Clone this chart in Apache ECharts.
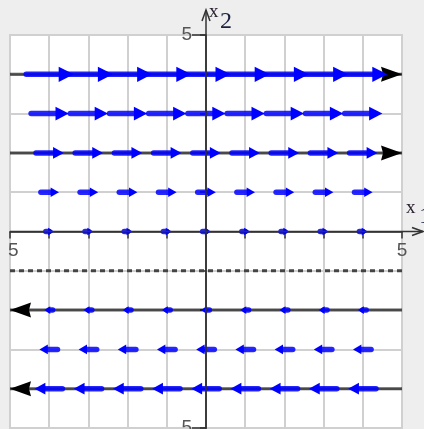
<!DOCTYPE html>
<html>
<head>
<meta charset="utf-8">
<script src="https://cdn.jsdelivr.net/npm/echarts@6/dist/echarts.min.js"></script>
<style>
html,body{margin:0;padding:0;background:#eeeeee;}
#chart{width:424px;height:429px;}
</style>
</head>
<body>
<div id="chart"></div>
<script>
// ---- data ----
const xRange = [-5, 5];
const yRange = [-5, 5];
const columnsX1 = [-4, -3, -2, -1, 0, 1, 2, 3, 4];
const rowsX2 = [4, 3, 2, 1, 0, -2, -3, -4];
const arrowDx = [1.25, 1.0, 0.75, 0.5, 0.25, -0.25, -0.5, -0.75];
const trajX2 = [4, 2, -2, -4];
const trajDir = [1, 1, -1, -1];
const equilibriumX2 = [-1];
const tickValues = [-5, 5];
const tickTexts = ['5', '5'];

const arrowData = [];
rowsX2.forEach((y, i) => columnsX1.forEach(x => arrowData.push([x, y, arrowDx[i]])));
const trajData = trajX2.map((y, i) => [y, trajDir[i]]);
const tickData = tickValues.map(v => [v]);

const chart = echarts.init(document.getElementById('chart'));

const option = {
  backgroundColor: '#eeeeee',
  animation: false,
  grid: {
    left: 10, top: 35, width: 392, height: 393,
    outerBoundsMode: 'none', containLabel: false,
    show: true, backgroundColor: '#ffffff', borderColor: '#d0d0d0', borderWidth: 2
  },
  xAxis: {
    type: 'value', min: xRange[0], max: xRange[1], interval: 1,
    axisLine: { show: true, onZero: true, lineStyle: { color: '#333', width: 1.5 } },
    axisTick: { show: true, length: 7, lineStyle: { color: '#333', width: 1.5 } },
    axisLabel: { show: false },
    splitLine: { show: true, lineStyle: { color: '#d0d0d0', width: 2 } }
  },
  yAxis: {
    type: 'value', min: yRange[0], max: yRange[1], interval: 1,
    axisLine: { show: true, onZero: true, lineStyle: { color: '#333', width: 1.5 } },
    axisTick: { show: true, length: 6, lineStyle: { color: '#333', width: 1.5 } },
    axisLabel: { show: false },
    splitLine: { show: true, lineStyle: { color: '#d0d0d0', width: 2 } }
  },
  series: [
    {
      // equilibrium (dotted) line
      type: 'line',
      data: [[xRange[0], equilibriumX2[0]], [xRange[1], equilibriumX2[0]]],
      symbol: 'none',
      lineStyle: { color: '#444', width: 3, type: [5, 4] },
      z: 3, silent: true
    },
    {
      // black trajectories
      type: 'custom',
      data: trajData,
      z: 4, silent: true,
      renderItem: function (params, api) {
        const y = api.value(0), d = api.value(1);
        const a = api.coord([xRange[0], y]);
        const b = api.coord([xRange[1], y]);
        const tip = d > 0 ? b : a;
        const hl = 21, hw = 15;
        const base = tip[0] - d * hl;
        return {
          type: 'group',
          children: [
            { type: 'line', shape: { x1: a[0], y1: a[1], x2: b[0], y2: b[1] },
              style: { stroke: 'rgba(0,0,0,0.65)', lineWidth: 3 } },
            { type: 'polygon', shape: { points: [[tip[0], tip[1]], [base, tip[1] - hw / 2], [base + d * 2, tip[1]], [base, tip[1] + hw / 2]] },
              style: { fill: '#000' } }
          ]
        };
      }
    },
    {
      // blue direction-field arrows
      type: 'custom',
      data: arrowData,
      z: 5, silent: true,
      renderItem: function (params, api) {
        const x = api.value(0), y = api.value(1), dx = api.value(2);
        const p0 = api.coord([x - dx / 2, y]);
        const p1 = api.coord([x + dx / 2, y]);
        const L = Math.abs(p1[0] - p0[0]);
        const dir = Math.sign(p1[0] - p0[0]);
        const hl = Math.min(15, 0.25 * L + 3.5);
        const hw = hl * 0.85 + 2.5;
        const base = p1[0] - dir * hl;
        return {
          type: 'group',
          children: [
            { type: 'line', shape: { x1: p0[0] + dir * 1.5, y1: p0[1], x2: base + dir, y2: p1[1] },
              style: { stroke: '#0000ff', lineWidth: 5.5, lineCap: 'round', opacity: 0.85 } },
            { type: 'polygon', shape: { points: [[p1[0], p1[1]], [base, p1[1] - hw / 2], [base, p1[1] + hw / 2]] },
              style: { fill: '#0000ff' } }
          ]
        };
      }
    },
    {
      // axis extensions with arrowheads
      type: 'custom',
      data: [[0, 0]],
      clip: false, z: 6, silent: true,
      renderItem: function (params, api) {
        const o = api.coord([0, 0]);
        const cs = params.coordSys;
        const top = cs.y - 25;
        const bottom = cs.y + cs.height + 5;
        const right = cs.x + cs.width + 21;
        const st = { stroke: '#333', lineWidth: 1.5, fill: null };
        return {
          type: 'group',
          children: [
            { type: 'line', shape: { x1: o[0], y1: top, x2: o[0], y2: bottom }, style: st },
            { type: 'polyline', shape: { points: [[o[0] - 4, top + 11], [o[0], top], [o[0] + 4, top + 11]] }, style: st },
            { type: 'line', shape: { x1: cs.x, y1: o[1], x2: right, y2: o[1] }, style: st },
            { type: 'polyline', shape: { points: [[right - 11, o[1] - 4], [right, o[1]], [right - 11, o[1] + 4]] }, style: st }
          ]
        };
      }
    },
    {
      // x tick labels
      type: 'custom',
      data: tickData,
      clip: false, z: 7, silent: true,
      renderItem: function (params, api) {
        const v = api.value(0);
        const p = api.coord([v, 0]);
        const isMin = v === xRange[0];
        return {
          type: 'text',
          style: { text: tickTexts[params.dataIndex], x: isMin ? p[0] - 2 : p[0], y: p[1] + 10,
                   align: isMin ? 'left' : 'center', verticalAlign: 'top',
                   font: 'normal 19px "Liberation Sans", Arial, sans-serif', fill: '#555' }
        };
      }
    },
    {
      // y tick labels (with longer ticks)
      type: 'custom',
      data: tickData,
      clip: false, z: 7, silent: true,
      renderItem: function (params, api) {
        const v = api.value(0);
        const p = api.coord([0, v]);
        return {
          type: 'group',
          children: [
            { type: 'line', shape: { x1: p[0] - 14, y1: p[1], x2: p[0], y2: p[1] },
              style: { stroke: '#333', lineWidth: 1.5 } },
            { type: 'text',
              style: { text: tickTexts[params.dataIndex], x: p[0] - 14, y: p[1],
                       align: 'right', verticalAlign: 'middle',
                       font: 'normal 19px "Liberation Sans", Arial, sans-serif', fill: '#555' } }
          ]
        };
      }
    }
  ],
  graphic: [
    { type: 'text', left: 209, top: 3, z: 10,
      style: { text: 'x', font: 'normal 19px "Liberation Serif", serif', fill: '#2a2030' } },
    { type: 'text', left: 220, top: 10, z: 10,
      style: { text: '2', font: 'normal 24px "Liberation Serif", serif', fill: '#1a2040' } },
    { type: 'text', left: 406, top: 199, z: 10,
      style: { text: 'x', font: 'normal 19px "Liberation Serif", serif', fill: '#2a2030' } },
    { type: 'text', left: 419, top: 205, z: 10,
      style: { text: '1', font: 'normal 24px "Liberation Serif", serif', fill: '#1a2040' } }
  ]
};
chart.setOption(option);
</script>
</body>
</html>
